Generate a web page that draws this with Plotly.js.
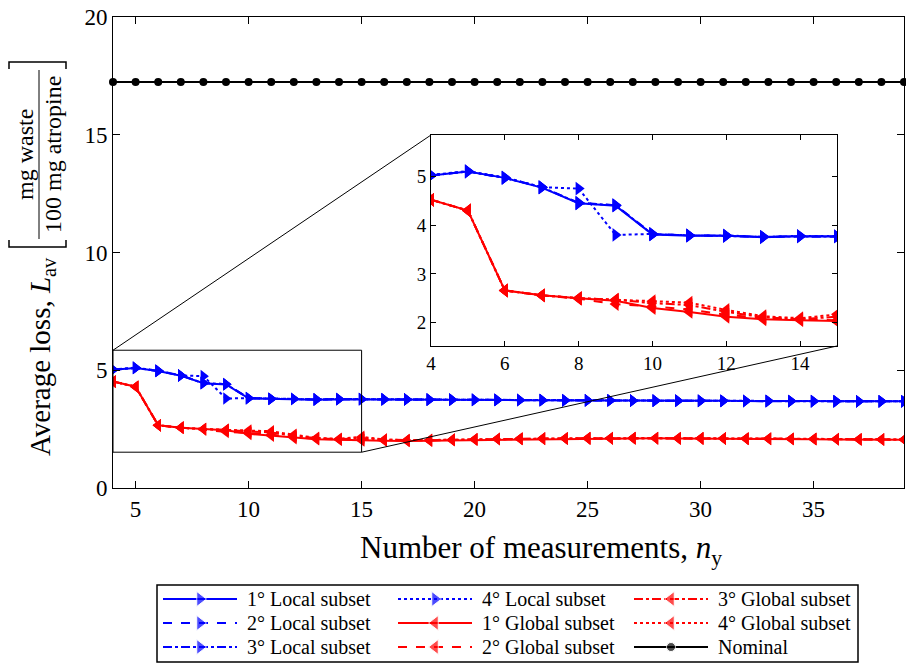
<!DOCTYPE html>
<html>
<head>
<meta charset="utf-8">
<script src="https://cdn.plot.ly/plotly-3.0.1.min.js"></script>
<style>html,body{margin:0;padding:0;background:#fff;}</style>
</head>
<body>
<div id="chart" style="width:906px;height:664px;"></div>
<script>
// Number of measurements
const nY = [4,5,6,7,8,9,10,11,12,13,14,15,16,17,18,19,20,21,22,23,24,25,26,27,28,29,30,31,32,33,34,35,36,37,38,39];

// Average loss per subset strategy
const local1 = [5.02,5.10,4.97,4.77,4.45,4.40,3.81,3.78,3.78,3.75,3.77,3.77,3.76,3.76,3.75,3.75,3.74,3.74,3.73,3.73,3.72,3.72,3.72,3.71,3.71,3.70,3.70,3.70,3.69,3.69,3.69,3.68,3.68,3.68,3.68,3.68];
const local2 = [5.02,5.10,4.97,4.78,4.46,4.41,3.82,3.79,3.78,3.76,3.77,3.77,3.76,3.76,3.75,3.75,3.74,3.74,3.74,3.73,3.72,3.72,3.72,3.71,3.71,3.71,3.70,3.70,3.70,3.69,3.69,3.69,3.68,3.68,3.68,3.68];
const local3 = [5.02,5.10,4.97,4.78,4.45,4.41,3.81,3.79,3.78,3.76,3.77,3.77,3.76,3.76,3.75,3.75,3.74,3.74,3.73,3.73,3.72,3.72,3.72,3.71,3.71,3.71,3.70,3.70,3.69,3.69,3.69,3.68,3.68,3.68,3.68,3.68];
const local4 = [5.03,5.11,4.98,4.78,4.75,3.80,3.82,3.79,3.79,3.76,3.78,3.77,3.77,3.76,3.76,3.75,3.75,3.74,3.74,3.73,3.73,3.72,3.72,3.72,3.71,3.71,3.71,3.70,3.70,3.70,3.69,3.69,3.69,3.68,3.68,3.68];
const global1 = [4.52,4.30,2.66,2.56,2.50,2.45,2.30,2.22,2.12,2.07,2.05,2.02,2.01,2.00,2.01,2.03,2.05,2.07,2.08,2.09,2.10,2.10,2.10,2.11,2.11,2.10,2.10,2.10,2.09,2.08,2.08,2.07,2.06,2.06,2.05,2.05];
const global2 = [4.52,4.30,2.66,2.56,2.49,2.38,2.33,2.27,2.16,2.09,2.06,2.04,2.02,2.01,2.02,2.04,2.06,2.08,2.09,2.10,2.10,2.11,2.11,2.11,2.11,2.11,2.11,2.10,2.10,2.09,2.08,2.08,2.07,2.06,2.06,2.05];
const global3 = [4.52,4.30,2.66,2.56,2.50,2.47,2.40,2.36,2.22,2.11,2.07,2.12,2.05,2.03,2.03,2.05,2.07,2.09,2.10,2.10,2.11,2.11,2.12,2.12,2.12,2.11,2.11,2.11,2.10,2.10,2.09,2.08,2.08,2.07,2.06,2.06];
const global4 = [4.52,4.30,2.66,2.56,2.50,2.47,2.44,2.41,2.26,2.13,2.09,2.17,2.06,2.03,2.04,2.05,2.07,2.09,2.10,2.11,2.11,2.12,2.12,2.12,2.12,2.12,2.11,2.11,2.10,2.10,2.09,2.09,2.08,2.07,2.07,2.06];
const nominal = [17.24,17.24,17.24,17.24,17.24,17.24,17.24,17.24,17.24,17.24,17.24,17.24,17.24,17.24,17.24,17.24,17.24,17.24,17.24,17.24,17.24,17.24,17.24,17.24,17.24,17.24,17.24,17.24,17.24,17.24,17.24,17.24,17.24,17.24,17.24,17.24];

// Axis ranges and ticks
const mainX = [4, 39];
const mainY = [0, 20];
const mainXTicks = [5,10,15,20,25,30,35];
const mainYTicks = [0,5,10,15,20];
const zoomX = [4, 15];
const zoomY = [1.52, 5.85];
const zoomXTicks = [4,6,8,10,12,14];
const zoomYTicks = [2,3,4,5];

// Legend entries, listed column by column
const legendNames = ['1° Local subset','2° Local subset','3° Local subset',
                     '4° Local subset','1° Global subset','2° Global subset',
                     '3° Global subset','4° Global subset','Nominal'];

const SERIF = '"Liberation Serif", "DejaVu Serif", serif';
const W = 906, H = 664;
const M = {l: 113, r: 2, t: 17, b: 2, autoexpand: false};
const PW = W - M.l - M.r, PH = H - M.t - M.b;
// pixel -> paper helpers for layout placement
const px = x => (x - M.l) / PW;
const py = y => (H - M.b - y) / PH;

const styles = {
  '1° Local subset':  {y: local1,  color: 'blue',  dash: 'solid',   sym: 'triangle-right'},
  '2° Local subset':  {y: local2,  color: 'blue',  dash: 'dash',    sym: 'triangle-right'},
  '3° Local subset':  {y: local3,  color: 'blue',  dash: 'dashdot', sym: 'triangle-right'},
  '4° Local subset':  {y: local4,  color: 'blue',  dash: 'dot',     sym: 'triangle-right'},
  '1° Global subset': {y: global1, color: 'red',   dash: 'solid',   sym: 'triangle-left'},
  '2° Global subset': {y: global2, color: 'red',   dash: 'dash',    sym: 'triangle-left'},
  '3° Global subset': {y: global3, color: 'red',   dash: 'dashdot', sym: 'triangle-left'},
  '4° Global subset': {y: global4, color: 'red',   dash: 'dot',     sym: 'triangle-left'},
  'Nominal':          {y: nominal, color: 'black', dash: 'solid',   sym: 'circle'}
};
const drawOrder = ['4° Global subset','3° Global subset','2° Global subset','1° Global subset',
                   '4° Local subset','3° Local subset','2° Local subset','1° Local subset'];

const traces = [];
// main axes
drawOrder.forEach(name => {
  const s = styles[name];
  traces.push({
    x: nY, y: s.y, name: name, type: 'scatter', mode: 'lines+markers', showlegend: false,
    line: {color: s.color, width: 2, dash: s.dash},
    marker: {symbol: s.sym, size: 11, color: s.color},
    xaxis: 'x', yaxis: 'y'
  });
});
traces.push({
  x: nY, y: nominal, name: 'Nominal', type: 'scatter', mode: 'lines+markers', showlegend: false,
  line: {color: 'black', width: 2}, marker: {symbol: 'circle', size: 8, color: 'black'},
  xaxis: 'x', yaxis: 'y', cliponaxis: false
});
// magnified view of the first measurements
drawOrder.forEach(name => {
  const s = styles[name];
  traces.push({
    x: nY, y: s.y, name: name, type: 'scatter', mode: 'lines+markers', showlegend: false,
    line: {color: s.color, width: 2, dash: s.dash},
    marker: {symbol: s.sym, size: 12, color: s.color},
    xaxis: 'x2', yaxis: 'y2'
  });
});

// legend keys, drawn on a pixel-scaled helper axis pair
const legBox = {x0: 157, x1: 858, y0: 585, y1: 662};
const colStart = [163, 398, 634];
const rowMid = [599, 623, 647];
const keyLen = 74, textGap = 82;
const legendAnn = [];
legendNames.forEach((name, i) => {
  const s = styles[name];
  const c = Math.floor(i / 3), r = i % 3;
  const x0 = colStart[c];
  traces.push({
    x: [x0, x0 + keyLen / 2, x0 + keyLen], y: [rowMid[r], rowMid[r], rowMid[r]],
    type: 'scatter', mode: 'lines+markers', showlegend: false, hoverinfo: 'skip',
    line: {color: s.color, width: 2, dash: s.dash},
    marker: {symbol: s.sym, size: [0, name === 'Nominal' ? 9 : 13, 0], color: s.color},
    xaxis: 'x3', yaxis: 'y3', cliponaxis: false
  });
  legendAnn.push({
    text: name, xref: 'x3', yref: 'y3', x: x0 + textGap, y: rowMid[r],
    xanchor: 'left', yanchor: 'middle', showarrow: false, font: {size: 20}
  });
});

const insetPx = {x0: 431, x1: 837, y0: 135, y1: 346};
const mainDomY = [py(488), py(17)];
const insetDomX = [px(insetPx.x0), px(insetPx.x1)];
const insetDomY = [py(insetPx.y1), py(insetPx.y0)];

// main-axis data -> paper units (for the zoom connectors)
const toPaperX = v => (v - mainX[0]) / (mainX[1] - mainX[0]);
const toPaperY = v => mainDomY[0] + (v - mainY[0]) / (mainY[1] - mainY[0]) * (mainDomY[1] - mainDomY[0]);

const axisCommon = {
  showline: true, linecolor: 'black', linewidth: 1, mirror: 'allticks',
  ticks: 'inside', tickcolor: 'black', showgrid: false, zeroline: false,
  tickmode: 'array'
};

const layout = {
  width: W, height: H, margin: M,
  paper_bgcolor: 'white', plot_bgcolor: 'white',
  font: {family: SERIF, color: 'black', size: 19},
  showlegend: false,
  xaxis: Object.assign({}, axisCommon, {
    range: mainX, tickvals: mainXTicks, ticklen: 7, tickfont: {size: 23}
  }),
  yaxis: Object.assign({}, axisCommon, {
    domain: mainDomY, range: mainY, tickvals: mainYTicks, ticklen: 7, tickfont: {size: 23}
  }),
  xaxis2: Object.assign({}, axisCommon, {
    domain: insetDomX, anchor: 'y2', range: zoomX, tickvals: zoomXTicks, ticklen: 5, tickfont: {size: 19}
  }),
  yaxis2: Object.assign({}, axisCommon, {
    domain: insetDomY, anchor: 'x2', range: zoomY, tickvals: zoomYTicks, ticklen: 5, tickfont: {size: 19}
  }),
  xaxis3: {domain: [px(legBox.x0), px(legBox.x1)], range: [legBox.x0, legBox.x1], anchor: 'y3',
           visible: false, fixedrange: true},
  yaxis3: {domain: [py(legBox.y1), py(legBox.y0)], range: [legBox.y1, legBox.y0], anchor: 'x3',
           visible: false, fixedrange: true},
  shapes: [
    // legend frame
    {type: 'rect', xref: 'paper', yref: 'paper', x0: px(legBox.x0), x1: px(legBox.x1),
     y0: py(legBox.y1), y1: py(legBox.y0), line: {color: 'black', width: 1.5}},
    // zoom box on the main axes
    {type: 'rect', xref: 'x', yref: 'y', x0: zoomX[0], x1: zoomX[1], y0: zoomY[0], y1: zoomY[1],
     line: {color: 'black', width: 1}, layer: 'above'},
    // connectors to the magnified view
    {type: 'line', xref: 'paper', yref: 'paper', x0: toPaperX(zoomX[0]), y0: toPaperY(zoomY[1]),
     x1: insetDomX[0], y1: insetDomY[1], line: {color: 'black', width: 1}},
    {type: 'line', xref: 'paper', yref: 'paper', x0: toPaperX(zoomX[1]), y0: toPaperY(zoomY[0]),
     x1: insetDomX[1], y1: insetDomY[0], line: {color: 'black', width: 1}},
    // unit brackets and fraction bar
    {type: 'line', xref: 'paper', yref: 'paper', x0: px(39), x1: px(39), y0: py(70), y1: py(239), line: {color: 'black', width: 1}},
    {type: 'path', xref: 'paper', yref: 'paper',
     path: 'M ' + px(9) + ' ' + py(69) + ' L ' + px(9) + ' ' + py(62) + ' L ' + px(66) + ' ' + py(62) + ' L ' + px(66) + ' ' + py(69),
     line: {color: 'black', width: 1.5}},
    {type: 'path', xref: 'paper', yref: 'paper',
     path: 'M ' + px(9) + ' ' + py(240) + ' L ' + px(9) + ' ' + py(247) + ' L ' + px(66) + ' ' + py(247) + ' L ' + px(66) + ' ' + py(240),
     line: {color: 'black', width: 1.5}}
  ],
  annotations: legendAnn.concat([
    {text: 'Number of measurements, <i>n</i><sub>y</sub>', xref: 'paper', yref: 'paper',
     x: px(541), y: py(550), showarrow: false, font: {size: 31}, xanchor: 'center', yanchor: 'middle'},
    {text: 'Average loss, <i>L</i><sub>av</sub>', textangle: -90, xref: 'paper', yref: 'paper',
     x: px(42), y: py(357), showarrow: false, font: {size: 29}, xanchor: 'center', yanchor: 'middle'},
    {text: 'mg waste', textangle: -90, xref: 'paper', yref: 'paper',
     x: px(25), y: py(155), showarrow: false, font: {size: 24}, xanchor: 'center', yanchor: 'middle'},
    {text: '100 mg atropine', textangle: -90, xref: 'paper', yref: 'paper',
     x: px(53), y: py(155), showarrow: false, font: {size: 24}, xanchor: 'center', yanchor: 'middle'}
  ])
};

Plotly.newPlot('chart', traces, layout, {displayModeBar: false, staticPlot: true});
</script>
</body>
</html>
